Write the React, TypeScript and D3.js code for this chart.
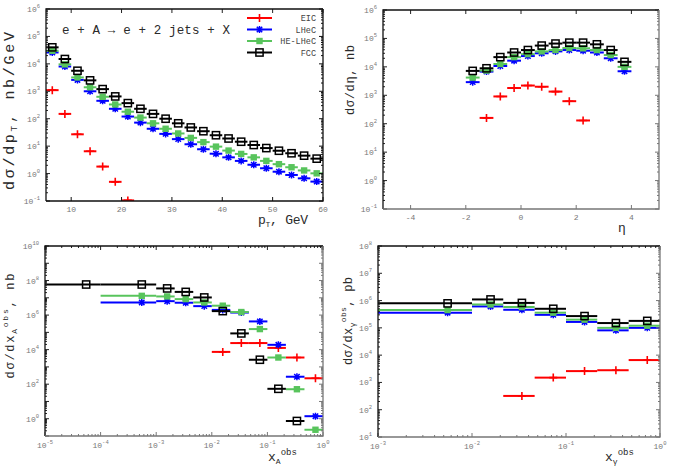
import React from 'react';
import * as d3 from 'd3';

// ---------- DATA ----------
const seriesNames = ['EIC', 'LHeC', 'HE-LHeC', 'FCC'];
const seriesColors = ['#ff0000', '#0000ff', '#58c45c', '#000000'];
const seriesMarkers = ['plus', 'star', 'fsquare', 'osquare'];

// pT distribution (GeV), bin width 2.5
const pTCenters = [6.25, 8.75, 11.25, 13.75, 16.25, 18.75, 21.25, 23.75, 26.25, 28.75, 31.25, 33.75, 36.25, 38.75, 41.25, 43.75, 46.25, 48.75, 51.25, 53.75, 56.25, 58.75];
const pTBinWidth = 2.5;
const pT_EIC = [1.1e3, 1.5e2, 27, 6.5, 1.8, 0.5, 0.105, null, null, null, null, null, null, null, null, null, null, null, null, null, null, null];
const pT_LHeC = [2.6e4, 8.0e3, 2.6e3, 1.0e3, 4.5e2, 2.3e2, 1.2e2, 72, 43, 28, 18, 11.7, 7.7, 5.3, 3.9, 2.9, 2.1, 1.56, 1.17, 0.89, 0.67, 0.51];
const pT_HE = [3.0e4, 9.6e3, 3.2e3, 1.4e3, 6.3e2, 3.3e2, 1.8e2, 1.1e2, 68, 43, 29, 20, 14, 9.6, 6.9, 5.2, 3.9, 2.9, 2.2, 1.7, 1.3, 1.02];
const pT_FCC = [4.0e4, 1.5e4, 5.6e3, 2.5e3, 1.2e3, 6.5e2, 3.7e2, 2.3e2, 1.5e2, 1.0e2, 68, 48, 35, 25, 19, 14.5, 11, 8.5, 6.8, 5.5, 4.5, 3.5];
const pTTicks = [10, 20, 30, 40, 50, 60];

// eta distribution, bin width 0.5
const etaCenters = [-1.75, -1.25, -0.75, -0.25, 0.25, 0.75, 1.25, 1.75, 2.25, 2.75, 3.25, 3.75];
const etaBinWidth = 0.5;
const eta_EIC = [null, 1.6e2, 9.1e2, 1.8e3, 2.2e3, 2.0e3, 1.35e3, 6.2e2, 1.3e2, null, null, null];
const eta_LHeC = [2.9e3, 6.8e3, 1.07e4, 1.65e4, 2.4e4, 3.0e4, 3.5e4, 3.9e4, 3.7e4, 3.2e4, 2.0e4, 7.0e3];
const eta_HE = [4.2e3, 7.4e3, 1.26e4, 2.2e4, 2.8e4, 3.5e4, 3.9e4, 4.6e4, 4.5e4, 3.9e4, 2.6e4, 1.0e4];
const eta_FCC = [7.2e3, 8.9e3, 2.2e4, 3.2e4, 3.9e4, 5.6e4, 6.6e4, 7.1e4, 7.1e4, 6.2e4, 3.9e4, 1.5e4];
const etaTicks = [-4, -2, 0, 2, 4];

// x_A^obs distribution (bin edges)
const xAEdges = [1e-5, 1e-4, 1e-3, 2.15e-3, 4.64e-3, 1e-2, 2.15e-2, 4.64e-2, 0.1, 0.215, 0.464, 1];
const xA_EIC = [null, null, null, null, null, 7.4e3, 2.4e4, 2.4e4, 1.26e4, 3.5e3, 2.2e2];
const xA_LHeC = [null, 5.4e6, 6.4e6, 5.2e6, 3.3e6, 2.0e6, 1.4e6, 4.3e5, 1.9e4, 2.7e2, 1.4];
const xA_HE = [null, 1.3e7, 1.2e7, 8.4e6, 5.4e6, 3.5e6, 1.5e6, 1.55e5, 3.5e3, 51, 0.23];
const xA_FCC = [5.9e7, 5.9e7, 3.5e7, 2.2e7, 1.05e7, 1.7e6, 8.7e4, 2.6e3, 54, 0.74, null];

// x_gamma^obs distribution (bin edges)
const xgEdges = [1e-3, 1e-2, 2.15e-2, 4.64e-2, 0.1, 0.215, 0.464, 1];
const xg_EIC = [null, null, 3.2e2, 1.5e3, 2.6e3, 2.8e3, 6.6e3];
const xg_LHeC = [3.6e5, 6.1e5, 4.6e5, 3.0e5, 1.65e5, 8.1e4, 1.0e5];
const xg_HE = [4.5e5, 7.2e5, 5.8e5, 3.6e5, 2.0e5, 1.0e5, 1.2e5];
const xg_FCC = [7.9e5, 1.1e6, 8.2e5, 5.0e5, 2.7e5, 1.5e5, 1.8e5];

// ---------- HELPERS ----------
type Pt = { lo: number; hi: number; xm: number; y: number };

function fromCenters(centers: number[], width: number, vals: (number | null)[]): Pt[] {
  const out: Pt[] = [];
  vals.forEach((v, i) => {
    if (v == null) return;
    out.push({ lo: centers[i] - width / 2, hi: centers[i] + width / 2, xm: centers[i], y: v });
  });
  return out;
}
function fromEdges(edges: number[], vals: (number | null)[]): Pt[] {
  const out: Pt[] = [];
  vals.forEach((v, i) => {
    if (v == null) return;
    const lo = edges[i], hi = edges[i + 1];
    out.push({ lo, hi, xm: (lo + hi) / 2, y: v });
  });
  return out;
}

const MONO = '"Liberation Mono", "DejaVu Sans Mono", monospace';

function Marker({ type, color, x, y }: { type: string; color: string; x: number; y: number }) {
  if (type === 'plus')
    return <path d={`M${x - 4},${y}H${x + 4}M${x},${y - 4}V${y + 4}`} stroke={color} strokeWidth={1.6} fill="none" />;
  if (type === 'star')
    return (
      <path
        d={`M${x - 3.5},${y}H${x + 3.5}M${x},${y - 3.5}V${y + 3.5}M${x - 2.7},${y - 2.7}L${x + 2.7},${y + 2.7}M${x - 2.7},${y + 2.7}L${x + 2.7},${y - 2.7}`}
        stroke={color}
        strokeWidth={1.5}
        fill="none"
      />
    );
  if (type === 'fsquare') return <rect x={x - 3.2} y={y - 3.2} width={6.4} height={6.4} fill={color} />;
  return <rect x={x - 3.6} y={y - 3.6} width={7.2} height={7.2} fill="none" stroke={color} strokeWidth={1.5} />;
}

function Pow({ x, y, e, anchor }: { x: number; y: number; e: number; anchor: string }) {
  return (
    <text x={x} y={y} textAnchor={anchor} fontFamily={MONO} fontSize={8} fill="#777">
      10<tspan dy={-4} fontSize={5.5}>{e}</tspan>
    </text>
  );
}

type PanelCfg = {
  id: string;
  frame: { x0: number; x1: number; y0: number; y1: number };
  xLog: boolean;
  xDomain: [number, number];
  xTicks: number[];
  yDomain: [number, number];
  yLabelExps: number[];
  series: Pt[][];
  brColor: string;
};

function Panel({ cfg }: { cfg: PanelCfg }) {
  const { x0, x1, y0, y1 } = cfg.frame;
  const xs: any = cfg.xLog
    ? d3.scaleLog().domain(cfg.xDomain).range([x0, x1])
    : d3.scaleLinear().domain(cfg.xDomain).range([x0, x1]);
  const ys = d3.scaleLog().domain(cfg.yDomain).range([y1, y0]);
  const els: JSX.Element[] = [];
  const tickCol = '#222';
  // y ticks
  const e0 = Math.round(Math.log10(cfg.yDomain[0]));
  const e1 = Math.round(Math.log10(cfg.yDomain[1]));
  for (let e = e0; e <= e1; e++) {
    const yy = ys(Math.pow(10, e));
    els.push(<line key={`ym${e}`} x1={x0} x2={x0 + 4} y1={yy} y2={yy} stroke={tickCol} />);
    els.push(<line key={`ymr${e}`} x1={x1} x2={x1 - 4} y1={yy} y2={yy} stroke={cfg.brColor} />);
    if (cfg.yLabelExps.includes(e)) els.push(<Pow key={`yl${e}`} x={x0 - 6} y={yy + 3} e={e} anchor="end" />);
    if (e < e1)
      for (let k = 2; k <= 9; k++) {
        const y2 = ys(k * Math.pow(10, e));
        els.push(<line key={`yn${e}${k}`} x1={x0} x2={x0 + 2} y1={y2} y2={y2} stroke={tickCol} />);
        els.push(<line key={`ynr${e}${k}`} x1={x1} x2={x1 - 2} y1={y2} y2={y2} stroke={cfg.brColor} />);
      }
  }
  // x ticks
  cfg.xTicks.forEach((t, i) => {
    const xx = xs(t);
    els.push(<line key={`xm${i}`} x1={xx} x2={xx} y1={y1} y2={y1 - 4} stroke={cfg.brColor} />);
    els.push(<line key={`xmt${i}`} x1={xx} x2={xx} y1={y0} y2={y0 + 4} stroke={tickCol} />);
    if (cfg.xLog) {
      els.push(<Pow key={`xl${i}`} x={xx} y={y1 + 12} e={Math.round(Math.log10(t))} anchor="middle" />);
      if (i < cfg.xTicks.length - 1)
        for (let k = 2; k <= 9; k++) {
          const x2 = xs(k * t);
          els.push(<line key={`xn${i}${k}`} x1={x2} x2={x2} y1={y1} y2={y1 - 2} stroke={cfg.brColor} />);
          els.push(<line key={`xnt${i}${k}`} x1={x2} x2={x2} y1={y0} y2={y0 + 2} stroke={tickCol} />);
        }
    } else {
      els.push(
        <text key={`xl${i}`} x={xx} y={y1 + 11} textAnchor="middle" fontFamily={MONO} fontSize={8} fill="#777">
          {t}
        </text>
      );
    }
  });
  const clipId = `clip-${cfg.id}`;
  return (
    <g>
      <defs>
        <clipPath id={clipId}>
          <rect x={x0} y={y0} width={x1 - x0} height={y1 - y0} />
        </clipPath>
      </defs>
      <g clipPath={`url(#${clipId})`}>
        {cfg.series.map((pts, si) => (
          <g key={si}>
            {pts.map((p, j) => (
              <line
                key={`b${j}`}
                x1={xs(p.lo)}
                x2={xs(p.hi)}
                y1={ys(p.y)}
                y2={ys(p.y)}
                stroke={seriesColors[si]}
                strokeWidth={2}
              />
            ))}
            {pts.map((p, j) => (
              <Marker key={`m${j}`} type={seriesMarkers[si]} color={seriesColors[si]} x={xs(p.xm)} y={ys(p.y)} />
            ))}
          </g>
        ))}
      </g>
      {els}
      <path d={`M${x0},${y1}V${y0}H${x1}`} fill="none" stroke="#111" strokeWidth={1.3} />
      <path d={`M${x1},${y0}V${y1}H${x0}`} fill="none" stroke={cfg.brColor} strokeWidth={1.3} />
    </g>
  );
}

export default function App() {
  const panels: PanelCfg[] = [
    {
      id: 'pt',
      frame: { x0: 46, x1: 323, y0: 9, y1: 201 },
      xLog: false,
      xDomain: [5, 60],
      xTicks: pTTicks,
      yDomain: [1e-1, 1e6],
      yLabelExps: [-1, 0, 1, 2, 3, 4, 5, 6],
      series: [pT_EIC, pT_LHeC, pT_HE, pT_FCC].map((v) => fromCenters(pTCenters, pTBinWidth, v)),
      brColor: '#111',
    },
    {
      id: 'eta',
      frame: { x0: 383, x1: 659, y0: 10, y1: 209 },
      xLog: false,
      xDomain: [-5, 5],
      xTicks: etaTicks,
      yDomain: [1e-1, 1e6],
      yLabelExps: [-1, 0, 1, 2, 3, 4, 5, 6],
      series: [eta_EIC, eta_LHeC, eta_HE, eta_FCC].map((v) => fromCenters(etaCenters, etaBinWidth, v)),
      brColor: '#777',
    },
    {
      id: 'xa',
      frame: { x0: 45, x1: 323, y0: 246, y1: 436 },
      xLog: true,
      xDomain: [1e-5, 1],
      xTicks: [1e-5, 1e-4, 1e-3, 1e-2, 1e-1, 1],
      yDomain: [1e-1, 1e10],
      yLabelExps: [0, 2, 4, 6, 8, 10],
      series: [xA_EIC, xA_LHeC, xA_HE, xA_FCC].map((v) => fromEdges(xAEdges, v)),
      brColor: '#777',
    },
    {
      id: 'xg',
      frame: { x0: 378, x1: 660, y0: 246, y1: 437 },
      xLog: true,
      xDomain: [1e-3, 1],
      xTicks: [1e-3, 1e-2, 1e-1, 1],
      yDomain: [1e1, 1e8],
      yLabelExps: [1, 2, 3, 4, 5, 6, 7, 8],
      series: [xg_EIC, xg_LHeC, xg_HE, xg_FCC].map((v) => fromEdges(xgEdges, v)),
      brColor: '#777',
    },
  ];

  const titleCol = '#2a2a2a';
  const legendRows = [18, 29.5, 41, 52.5];

  return (
    <svg width={675} height={472} style={{ position: 'absolute', left: 0, top: 0, background: '#fff' }}>
      <rect x={0} y={0} width={675} height={472} fill="#fff" />
      {panels.map((p) => (
        <Panel key={p.id} cfg={p} />
      ))}

      {/* Process label */}
      <text x={62} y={34} fontFamily={MONO} fontSize={12.5} fill={titleCol} textLength={168} lengthAdjust="spacing">
        e + A → e + 2 jets + X
      </text>

      {/* Legend */}
      {seriesNames.map((n, i) => (
        <g key={n}>
          <line x1={247} x2={272} y1={legendRows[i]} y2={legendRows[i]} stroke={seriesColors[i]} strokeWidth={2} />
          <Marker type={seriesMarkers[i]} color={seriesColors[i]} x={259.5} y={legendRows[i]} />
          <text x={316} y={legendRows[i] + 3} textAnchor="end" fontFamily={MONO} fontSize={8.5} fill="#444">
            {n}
          </text>
        </g>
      ))}

      {/* Y axis titles */}
      <text
        transform="translate(14,111) rotate(-90)"
        textAnchor="middle"
        fontFamily={MONO}
        fontSize={15}
        fill={titleCol}
        textLength={158}
        lengthAdjust="spacing"
      >
        dσ/dp<tspan dy={3} fontSize={9.5}>T</tspan>
        <tspan dy={-3}>,  nb/GeV</tspan>
      </text>
      <text
        transform="translate(354,80) rotate(-90)"
        textAnchor="middle"
        fontFamily={MONO}
        fontSize={12}
        fill={titleCol}
        textLength={70}
        lengthAdjust="spacing"
      >
        dσ/dη,  nb
      </text>
      <text
        transform="translate(14,326) rotate(-90)"
        textAnchor="middle"
        fontFamily={MONO}
        fontSize={12}
        fill={titleCol}
        textLength={105}
        lengthAdjust="spacing"
      >
        dσ/dx<tspan dy={3} fontSize={8}>A</tspan>
        <tspan dy={-9} fontSize={8}>obs</tspan>
        <tspan dy={6}>,  nb</tspan>
      </text>
      <text
        transform="translate(352,321) rotate(-90)"
        textAnchor="middle"
        fontFamily={MONO}
        fontSize={12}
        fill={titleCol}
        textLength={88}
        lengthAdjust="spacing"
      >
        dσ/dx<tspan dy={3} fontSize={8}>γ</tspan>
        <tspan dy={-9} fontSize={8}>obs</tspan>
        <tspan dy={6}>,  pb</tspan>
      </text>

      {/* X axis titles */}
      <text x={258} y={224} fontFamily={MONO} fontSize={13} fill={titleCol} textLength={50} lengthAdjust="spacing">
        p<tspan dy={3} fontSize={8}>T</tspan>
        <tspan dy={-3}>,  GeV</tspan>
      </text>
      <text x={618} y={232} fontFamily={MONO} fontSize={13} fill={titleCol}>
        η
      </text>
      <text x={268} y={461} fontFamily={MONO} fontSize={13} fill={titleCol}>
        x<tspan dy={3} fontSize={8}>A</tspan>
        <tspan dy={-9} fontSize={9}>obs</tspan>
      </text>
      <text x={605} y={461} fontFamily={MONO} fontSize={13} fill={titleCol}>
        x<tspan dy={3} fontSize={8}>γ</tspan>
        <tspan dy={-9} fontSize={9}>obs</tspan>
      </text>
    </svg>
  );
}
